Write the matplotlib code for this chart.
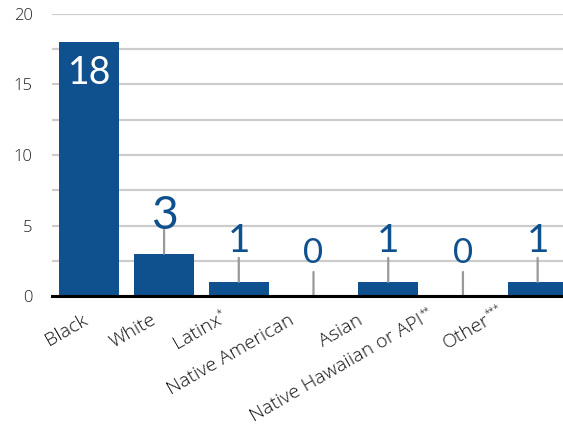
import numpy as np
import matplotlib
matplotlib.use('Agg')
from matplotlib import pyplot as plt
from matplotlib import transforms
from matplotlib.ticker import MultipleLocator

plt.rcParams['font.family'] = ['Open Sans', 'DejaVu Sans']

# counts per group; trailing asterisks mark footnotes
groups = ['Black', 'White', 'Latinx', 'Native American', 'Asian',
          'Native Hawaiian or API', 'Other']
notes = ['', '', '*', '', '', '**', '***']
counts = [18, 3, 1, 0, 1, 0, 1]

blue = '#0f518e'
px = 0.72  # points per pixel at dpi 100
digits = ['Lato', 'DejaVu Sans']

fig = plt.figure(figsize=(5.63, 4.34), dpi=100)
ax = fig.add_axes([52 / 563, 138 / 434, 523 / 563, 282 / 434])

x = np.arange(len(counts))
ax.bar(x, counts, width=0.8, color=blue, zorder=3)

ax.set_xlim(-0.5, len(counts) - 0.5)
ax.set_ylim(0, 20)
ax.yaxis.set_major_locator(MultipleLocator(5))
ax.yaxis.set_minor_locator(MultipleLocator(2.5))
ax.grid(axis='y', which='both', color='#cccccc', linewidth=1.6, zorder=0)

for s in ['top', 'right', 'left']:
    ax.spines[s].set_visible(False)
ax.spines['bottom'].set_linewidth(2.2)
ax.spines['bottom'].set_color('black')
ax.spines['bottom'].set_zorder(5)

ax.tick_params(axis='y', which='both', length=0, pad=14, labelsize=12, labelcolor='#222222')
for t in ax.get_yticklabels():
    t.set_fontweight('light')
ax.set_xticks([])

# rotated group names, spread a bit tighter than the bars
ang = 30
perp = np.array([-np.sin(np.radians(ang)), np.cos(np.radians(ang))])
base = transforms.blended_transform_factory(ax.transData, ax.transAxes)
for i, (g, n) in enumerate(zip(groups, notes)):
    xp = i * 0.923 - 0.11 - 0.05 * len(n)
    tr = transforms.offset_copy(base, fig=fig, x=0, y=-15 * px, units='points')
    ax.text(xp, 0, g, transform=tr, rotation=ang, rotation_mode='anchor',
            ha='right', va='top', fontsize=14, fontweight='light', color='#111111')
    if n:
        off = perp * 1 * px
        tr2 = transforms.offset_copy(base, fig=fig, x=off[0], y=-15 * px + off[1],
                                     units='points')
        ax.text(xp, 0, n, transform=tr2, rotation=ang, rotation_mode='anchor',
                ha='left', va='top', fontsize=7, fontweight='light', color='#111111')

# value labels
top = max(counts)
for i, v in enumerate(counts):
    if v == top:
        ax.annotate(str(v), (i, v), xytext=(0, -42 * px), textcoords='offset points',
                    ha='center', va='baseline', color='white', fontsize=27,
                    family=digits)
        continue
    ax.annotate('', (i, v), xytext=(0, 24 * px), textcoords='offset points',
                arrowprops=dict(arrowstyle='-', color='#999999', lw=1.6,
                                shrinkA=0, shrinkB=0))
    ax.annotate(str(v), (i, v), xytext=(0, (33 - 2.7 * v) * px), textcoords='offset points',
                ha='center', va='baseline', color=blue, fontsize=25 + 2.8 * v,
                family=digits)

fig.savefig('out.png', dpi=100)
